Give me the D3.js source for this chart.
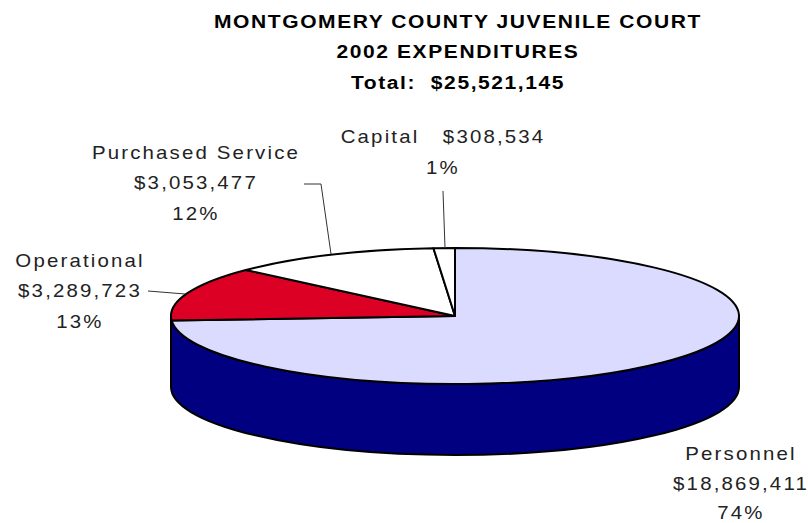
<!DOCTYPE html>
<html>
<head>
  <style>
    body { margin: 0; background: #fff; }
    svg { display: block; }
    text { font-family: "Liberation Sans", Arial, sans-serif; white-space: pre; text-anchor: middle; }
    .title { font-size: 18px; font-weight: bold; letter-spacing: 1.35px; fill: #000; }
    .label { font-size: 18px; letter-spacing: 1.9px; fill: #222; }
    .leader { fill: none; stroke: #333; stroke-width: 1; }
  </style>
</head>
<body>
<script src="https://d3js.org/d3.v7.min.js"></script>
<script>
  const titleLines = ["MONTGOMERY COUNTY JUVENILE COURT", "2002 EXPENDITURES", "Total:  $25,521,145"];

  // Slices, clockwise from 12 o'clock
  const categories = ["Personnel", "Operational", "Purchased Service", "Capital"];
  const amounts = [18869411, 3289723, 3053477, 308534];
  const amountLabels = ["$18,869,411", "$3,289,723", "$3,053,477", "$308,534"];
  const percentLabels = ["74%", "13%", "12%", "1%"];
  const colors = ["#dbdbff", "#dc0025", "#ffffff", "#ffffff"];

  const width = 808, height = 523;
  const cx = 455, cy = 316, rx = 284, ry = 68, depth = 71;

  const svg = d3.select("body").append("svg")
    .attr("width", width)
    .attr("height", height);

  // The reference type is stretched sideways
  const titleStretch = 1.168, labelStretch = 1.135;

  // Title
  const titleY = [28, 58, 89];
  svg.selectAll(".title")
    .data(titleLines)
    .join("text")
    .attr("class", "title")
    .attr("transform", (d, i) => `translate(458,${titleY[i]}) scale(${titleStretch},1)`)
    .text(d => d);

  // Side wall of the pie
  svg.append("path")
    .attr("d", `M${cx - rx},${cy} V${cy + depth} A${rx},${ry} 0 0 0 ${cx + rx},${cy + depth} V${cy} A${rx},${ry} 0 0 1 ${cx - rx},${cy} Z`)
    .attr("fill", "#000080")
    .attr("stroke", "#000")
    .attr("stroke-width", 2);

  // Top face: a normal pie squashed into an ellipse
  const pie = d3.pie().sort(null).value(d => d);
  const arc = d3.arc().innerRadius(0).outerRadius(rx);

  svg.append("g")
    .attr("transform", `translate(${cx},${cy}) scale(1,${ry / rx})`)
    .selectAll("path")
    .data(pie(amounts))
    .join("path")
    .attr("d", arc)
    .attr("fill", (d, i) => colors[i])
    .attr("stroke", "#000")
    .attr("stroke-width", 2)
    .attr("vector-effect", "non-scaling-stroke")
    .attr("stroke-linejoin", "round");

  // Leader lines
  const leaders = [
    [[148, 291], [185, 294]],
    [[304, 184], [321, 184], [331, 254]],
    [[443, 191], [445, 248]]
  ];
  const line = d3.line();
  svg.selectAll(".leader")
    .data(leaders)
    .join("path")
    .attr("class", "leader")
    .attr("d", line);

  // Data labels
  const labelX = [741, 80, 196, 443];
  const labelY = [
    [460, 490, 519],
    [267, 297, 328],
    [159, 189, 220],
    [143, 174]
  ];
  const labelLines = categories.map((c, i) =>
    i === 3
      ? [`${c}   ${amountLabels[i]}`, percentLabels[i]]
      : [c, amountLabels[i], percentLabels[i]]);

  labelLines.forEach((lines, i) => {
    svg.selectAll(".label-" + i)
      .data(lines)
      .join("text")
      .attr("class", "label label-" + i)
      .attr("transform", (d, j) => `translate(${labelX[i]},${labelY[i][j]}) scale(${labelStretch},1)`)
      .text(d => d);
  });
</script>
</body>
</html>
